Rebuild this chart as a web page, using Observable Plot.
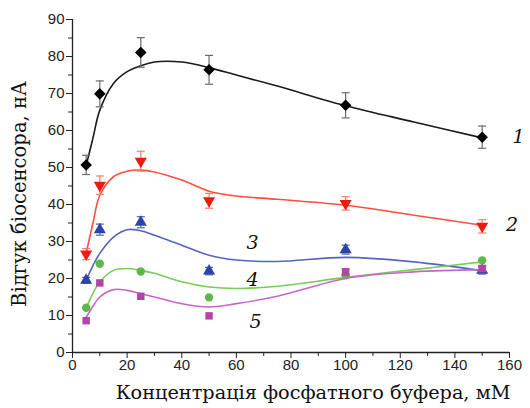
<!DOCTYPE html>
<html>
<head>
<meta charset="utf-8">
<script src="https://cdn.jsdelivr.net/npm/d3@7"></script>
<script src="https://cdn.jsdelivr.net/npm/@observablehq/plot@0.6"></script>
<style>
  html, body { margin: 0; padding: 0; background: #fff; }
  #chart { width: 530px; height: 408px; }
</style>
</head>
<body>
<div id="chart"></div>
<script>
// Measured concentrations (mM)
const conc = [5, 10, 25, 50, 100, 150];
// Measured responses (nA) per series
const s1 = [50.7, 69.9, 81.1, 76.4, 66.8, 58.2];
const s2 = [26.6, 45.2, 51.7, 41.0, 40.3, 34.1];
const s3 = [19.5, 33.2, 35.2, 22.0, 27.8, 22.2];
const s4 = [12.1, 24.0, 21.9, 14.9, 20.9, 24.9];
const s5 = [8.6, 18.8, 15.2, 9.9, 21.8, 22.7];
// Error bars (± nA)
const e1 = [2.6, 3.5, 4.0, 3.9, 3.4, 3.0];
const e2 = [1.5, 2.5, 2.7, 2.0, 1.8, 1.8];
const e3 = [0.8, 1.5, 1.5, 1.0, 1.2, 1.0];
const e4 = [0, 0, 0, 0, 0, 0];
const e5 = [0, 0, 0, 0, 0.8, 0.8];

// Fitted curves
const fitX = [5, 7.5, 10, 15, 20, 25, 30, 40, 50, 60, 75, 100, 125, 150];
const f1 = [50.5, 58.0, 65.5, 72.7, 75.9, 77.5, 78.5, 78.5, 77.0, 75.0, 72.0, 66.7, 62.3, 58.0];
const f2 = [26.8, 35.0, 42.5, 47.5, 49.0, 49.3, 48.8, 46.6, 43.6, 42.3, 41.4, 39.8, 37.1, 34.4];
const f3 = [19.5, 23.5, 26.8, 31.2, 33.2, 32.9, 31.7, 29.0, 26.3, 25.0, 24.6, 25.7, 24.5, 22.1];
const f4 = [12.1, 16.0, 19.1, 22.2, 22.7, 22.2, 21.4, 19.1, 17.7, 17.3, 17.9, 20.3, 22.4, 24.5];
const f5 = [9.5, 12.5, 15.0, 17.0, 16.8, 15.9, 15.0, 13.2, 12.3, 13.2, 15.2, 20.0, 21.8, 22.4];

// Series labels and their anchor points (data units)
const labelText = ["1", "2", "3", "4", "5"];
const labelX = [163.3, 160.9, 65.9, 65.9, 67.0];
const labelY = [58.2, 34.4, 29.5, 19.5, 8.2];

const xTicks = [0, 20, 40, 60, 80, 100, 120, 140, 160];
const xMinor = [10, 30, 50, 70, 90, 110, 130, 150];
const yTicks = [0, 10, 20, 30, 40, 50, 60, 70, 80, 90];
const yMinor = [5, 15, 25, 35, 45, 55, 65, 75, 85];

const xTitle = "Концентрація фосфатного буфера, мМ";
const yTitle = "Відгук біосенсора, нА";

const series = [
  {vals: s1, errs: e1, fit: f1, line: "#1a1a1a", fill: "#000000", err: "#6a6a6a", symbol: "diamond2", r: 5.2, rot: 0},
  {vals: s2, errs: e2, fit: f2, line: "#ff4f3f", fill: "#ee1a10", err: "#ff7a68", symbol: "triangle", r: 4.5, rot: 180},
  {vals: s3, errs: e3, fit: f3, line: "#5565bd", fill: "#2a44a8", err: "#4a60c0", symbol: "triangle", r: 4.5, rot: 0},
  {vals: s4, errs: e4, fit: f4, line: "#78cc5a", fill: "#5cb848", err: "#5cb848", symbol: "circle", r: 4.2, rot: 0},
  {vals: s5, errs: e5, fit: f5, line: "#c468c8", fill: "#b444a8", err: "#b444a8", symbol: "square", r: 4.2, rot: 0}
];

const capSymbol = {
  draw(ctx, size) {
    const w = 4;
    ctx.moveTo(-w, 0);
    ctx.lineTo(w, 0);
  }
};

const marks = [];
series.forEach((s) => {
  const pts = conc.map((c, i) => ({x: c, y: s.vals[i], lo: s.vals[i] - s.errs[i], hi: s.vals[i] + s.errs[i], e: s.errs[i]}));
  const fit = fitX.map((x, i) => ({x, y: s.fit[i]}));
  marks.push(Plot.line(fit, {x: "x", y: "y", stroke: s.line, strokeWidth: 1.6, curve: "catmull-rom"}));
  const ep = pts.filter(d => d.e > 0);
  marks.push(Plot.ruleX(ep, {x: "x", y1: "lo", y2: "hi", stroke: s.err, strokeWidth: 1.2}));
  marks.push(Plot.dot(ep, {x: "x", y: "lo", symbol: capSymbol, stroke: s.err, strokeWidth: 1.2, fill: "none"}));
  marks.push(Plot.dot(ep, {x: "x", y: "hi", symbol: capSymbol, stroke: s.err, strokeWidth: 1.2, fill: "none"}));
  marks.push(Plot.dot(pts, {x: "x", y: "y", symbol: s.symbol, r: s.r, fill: s.fill, stroke: "none", rotate: s.rot}));
});

const labels = labelText.map((t, i) => ({t, x: labelX[i], y: labelY[i]}));

const chart = Plot.plot({
  width: 530,
  height: 408,
  marginLeft: 72,
  marginRight: 21,
  marginTop: 19,
  marginBottom: 56,
  style: {fontFamily: "'Liberation Sans', Arial, sans-serif", fontSize: "15px", color: "#222", background: "#fff", overflow: "visible"},
  x: {domain: [0, 160]},
  y: {domain: [0, 90]},
  marks: [
    Plot.axisX({ticks: xTicks, tickSize: 6, tickPadding: 1, label: null, fontSize: 15}),
    Plot.axisX({ticks: xMinor, tickSize: 4, text: null, label: null}),
    Plot.axisY({ticks: yTicks, tickSize: 6, tickPadding: 2, label: null, fontSize: 15}),
    Plot.axisY({ticks: yMinor, tickSize: 4, text: null, label: null}),
    Plot.ruleX([0], {stroke: "#222", strokeWidth: 1.3}),
    Plot.ruleY([0], {stroke: "#222", strokeWidth: 1.3}),
    ...marks,
    Plot.text(labels, {x: "x", y: "y", text: "t", fontFamily: "'DejaVu Serif', serif", fontStyle: "italic", fontSize: 19, fill: "#111"}),
    Plot.text([xTitle], {frameAnchor: "bottom", dy: 46, dx: 22, fontFamily: "'DejaVu Serif', serif", fontSize: 19.3, fill: "#111"}),
    Plot.text([yTitle], {frameAnchor: "left", textAnchor: "middle", dx: -53, dy: 8, rotate: -90, fontFamily: "'DejaVu Serif', serif", fontSize: 19.6, fill: "#111"})
  ]
});
document.getElementById("chart").appendChild(chart);
</script>
</body>
</html>
